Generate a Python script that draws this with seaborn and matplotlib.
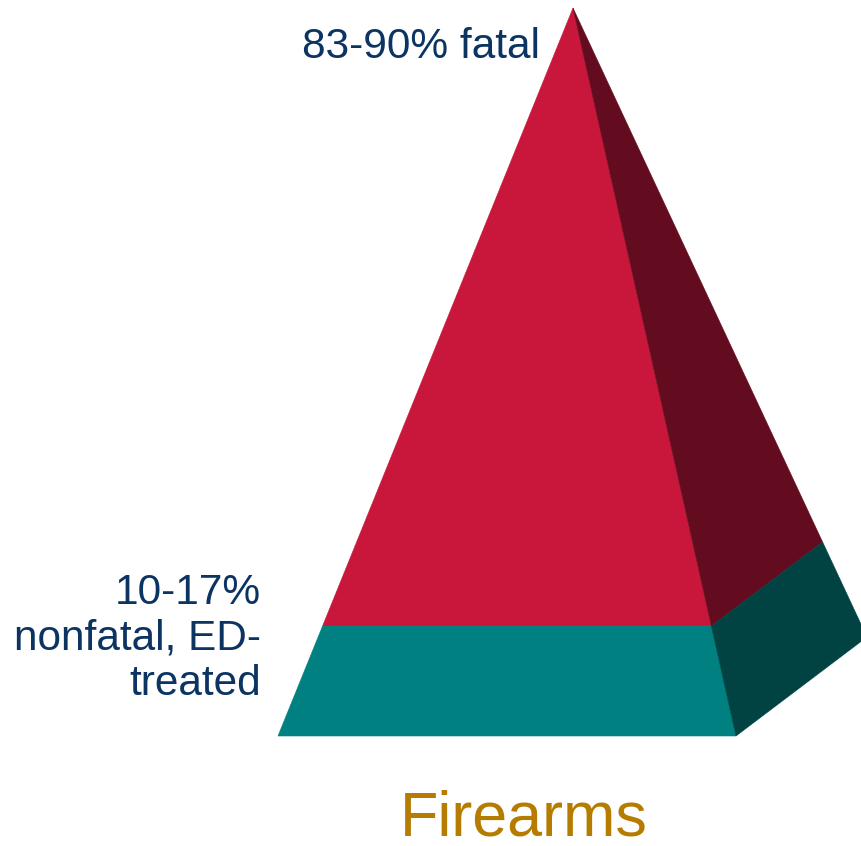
import numpy as np
import matplotlib.pyplot as plt
import seaborn as sns

# tiers from top of the pyramid to the base
tier_labels = ["83-90% fatal", "10-17%\nnonfatal, ED-\ntreated"]
tier_height_share = [0.849, 0.151]  # share of pyramid height per tier
front_colors = ["#C8173A", "#008080"]
side_colors = ["#640C1F", "#014343"]
title = "Firearms"

sns.set_style("white")
plt.rcParams["font.family"] = ["Liberation Sans", "DejaVu Sans"]

W, H = 861, 846
fig = plt.figure(figsize=(W / 100, H / 100), dpi=100)
ax = fig.add_axes([0, 0, 1, 1])
ax.set_xlim(0, W)
ax.set_ylim(H, 0)
ax.axis("off")

# pyramid geometry in pixel space
apex = np.array([573.0, 8.0])
front_left = np.array([278.0, 736.0])
front_right = np.array([736.0, 736.0])
back_right = np.array([867.0, 637.0])


def along(p, t):
    return apex + (p - apex) * t


cuts = np.concatenate([[0.0], np.cumsum(tier_height_share)])
for i in range(len(tier_labels)):
    t0, t1 = cuts[i], cuts[i + 1]
    front = [along(front_left, t0), along(front_right, t0),
             along(front_right, t1), along(front_left, t1)]
    side = [along(front_right, t0), along(back_right, t0),
            along(back_right, t1), along(front_right, t1)]
    for poly, c in ((front, front_colors[i]), (side, side_colors[i])):
        poly = np.array(poly)
        ax.fill(poly[:, 0], poly[:, 1], color=c, lw=0.4, ec=c)

navy = "#0B3463"
ax.text(540, 58, tier_labels[0], ha="right", va="baseline",
        fontsize=30.5, color=navy)
ax.text(261, 695, tier_labels[1], ha="right", va="baseline",
        fontsize=30.5, color=navy, linespacing=1.17, multialignment="right")
ax.text(524, 836, title, ha="center", va="baseline",
        fontsize=45.3, color="#B57C00")

fig.savefig("out.png", dpi=100, facecolor="white")
